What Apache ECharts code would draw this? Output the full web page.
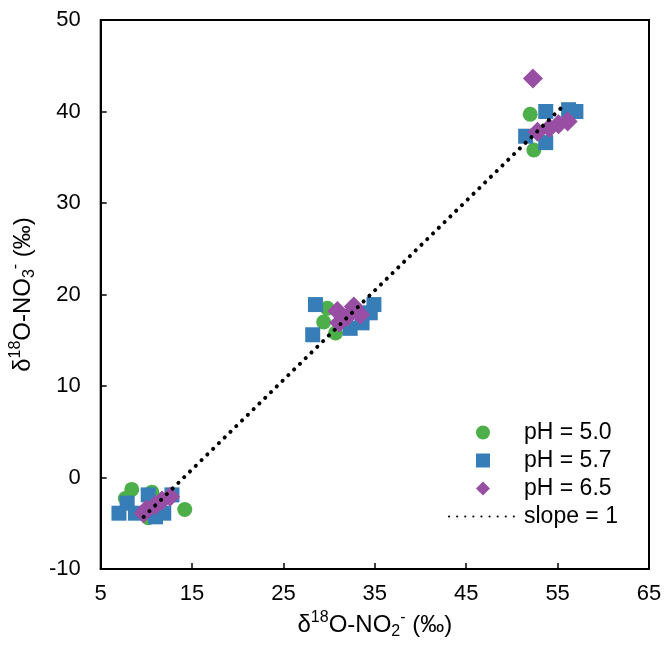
<!DOCTYPE html>
<html>
<head>
<meta charset="utf-8">
<script src="https://cdn.jsdelivr.net/npm/echarts@6/dist/echarts.min.js"></script>
<style>html,body{margin:0;padding:0;background:#fff;}#c{width:665px;height:646px;}</style>
</head>
<body>
<div id="c"></div>
<script>
// Data
var seriesNames = ['pH = 5.0', 'pH = 5.7', 'pH = 6.5', 'slope = 1'];
var ph50 = [
  [8.4, -1.3], [7.7, -2.3], [14.2, -3.5], [10.2, -4.4], [10.6, -1.6],
  [29.8, 18.5], [29.4, 17.0], [30.7, 15.8],
  [52.0, 39.7], [52.4, 35.8]
];
var ph57 = [
  [7.0, -3.9], [7.9, -2.8], [8.8, -3.9], [10.2, -1.9], [12.8, -1.9], [11.0, -4.3], [11.9, -3.9],
  [28.5, 18.9], [28.2, 15.6], [34.9, 18.9], [33.6, 16.9], [32.3, 16.3], [34.5, 18.0],
  [53.7, 40.0], [56.2, 40.2], [57.0, 40.0], [51.5, 37.3], [53.7, 36.6]
];
var ph65 = [
  [9.7, -3.9], [10.0, -3.5], [11.0, -3.0], [11.7, -2.5], [12.6, -2.1],
  [30.9, 18.2], [31.1, 16.9], [32.7, 18.7], [33.4, 17.8], [32.0, 17.6],
  [52.3, 43.6], [52.8, 37.8], [54.1, 38.2], [55.1, 38.6], [56.1, 38.9]
];
var slopeLine = [[9.7, -4.3], [55.4, 40.4]];
var xTicks = {min: 5, max: 65, step: 10};
var yTicks = {min: -10, max: 50, step: 10};

var FONT = 'Liberation Sans, Arial, sans-serif';
var chart = echarts.init(document.getElementById('c'), null, {renderer: 'canvas'});
var rich = {
  a: {fontSize: 24, fontFamily: FONT, color: '#000', lineHeight: 30},
  sup: {fontSize: 16, fontFamily: FONT, color: '#000', verticalAlign: 'top', lineHeight: 17},
  sub: {fontSize: 16, fontFamily: FONT, color: '#000', verticalAlign: 'bottom', lineHeight: 17}
};
var legendText = {fontSize: 23, fontFamily: FONT, color: '#000'};
chart.setOption({
  animation: false,
  backgroundColor: '#fff',
  grid: {left: 97, right: 16, top: 20, bottom: 77, show: true, borderColor: '#000', borderWidth: 2, containLabel: false},
  legend: [{
    data: seriesNames.slice(0, 3),
    orient: 'vertical',
    left: 476, top: 421,
    padding: 0,
    itemWidth: 14, itemHeight: 14, itemGap: 5,
    textStyle: Object.assign({padding: [0, 0, 0, 29]}, legendText)
  }, {
    data: [{name: seriesNames[3], itemStyle: {opacity: 0}}],
    orient: 'vertical',
    left: 448, top: 505,
    padding: 0,
    itemWidth: 70, itemHeight: 14,
    textStyle: legendText
  }],
  xAxis: {
    type: 'value', min: xTicks.min, max: xTicks.max, interval: xTicks.step,
    name: '{a|δ}{sup|18}{a|O-NO}{sub|2}{sup|-}{a| (‰)}',
    nameLocation: 'middle', nameGap: 38,
    nameTextStyle: {fontSize: 24, fontFamily: FONT, color: '#000', rich: rich},
    axisLine: {onZero: false, lineStyle: {color: '#000', width: 2}},
    axisTick: {inside: true, length: 6, lineStyle: {color: '#000', width: 1.5}},
    axisLabel: {fontSize: 22, fontFamily: FONT, color: '#000', margin: 14},
    splitLine: {show: false}
  },
  yAxis: {
    type: 'value', min: yTicks.min, max: yTicks.max, interval: yTicks.step,
    name: '{a|δ}{sup|18}{a|O-NO}{sub|3}{sup|-}{a| (‰)}',
    nameLocation: 'middle', nameGap: 50, nameRotate: 90,
    nameTextStyle: {fontSize: 24, fontFamily: FONT, color: '#000', rich: rich},
    axisLine: {onZero: false, lineStyle: {color: '#000', width: 2}},
    axisTick: {inside: true, length: 6, lineStyle: {color: '#000', width: 1.5}},
    axisLabel: {fontSize: 22, fontFamily: FONT, color: '#000', margin: 20},
    splitLine: {show: false}
  },
  series: [
    {name: seriesNames[0], type: 'scatter', data: ph50, symbol: 'circle', symbolSize: 15, itemStyle: {color: '#4DAF4A', opacity: 1}},
    {name: seriesNames[1], type: 'scatter', data: ph57, symbol: 'rect', symbolSize: 15, itemStyle: {color: '#377EB8', opacity: 1}},
    {name: seriesNames[2], type: 'scatter', data: ph65, symbol: 'diamond', symbolSize: 20, itemStyle: {color: '#984EA3', opacity: 1}},
    {name: seriesNames[3], type: 'line', data: slopeLine, showSymbol: false, symbol: 'none', silent: true,
     itemStyle: {color: '#000'},
     lineStyle: {color: '#000', width: 4, type: [0.1, 8], cap: 'round'}}
  ]
});
</script>
</body>
</html>
